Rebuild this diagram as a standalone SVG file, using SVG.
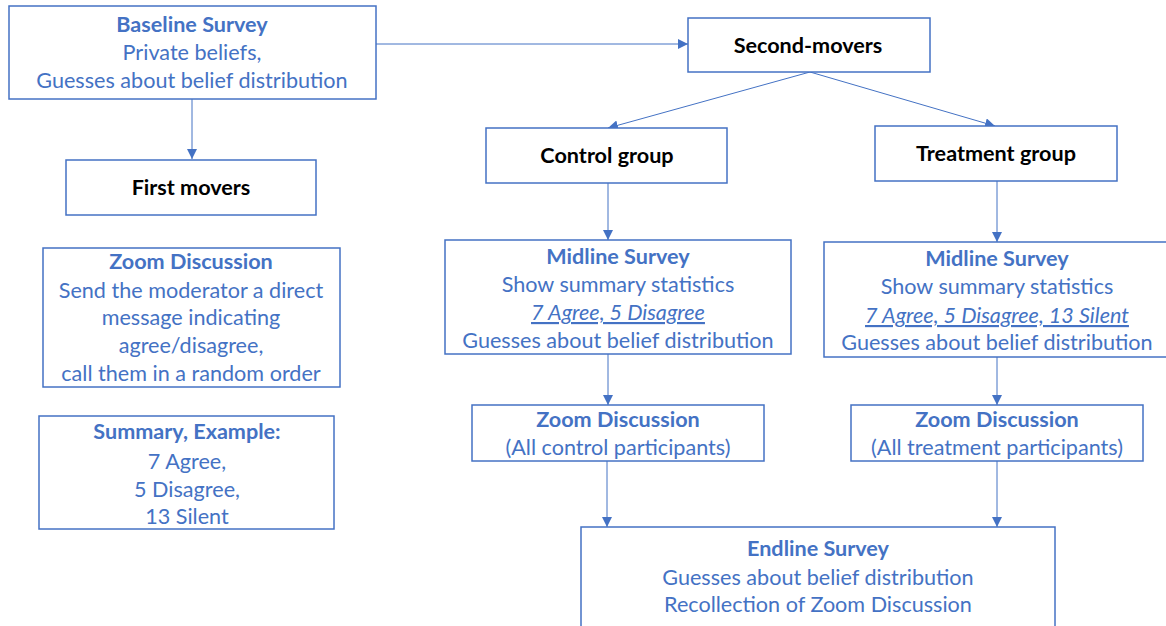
<svg xmlns="http://www.w3.org/2000/svg" width="1166" height="626" viewBox="0 0 1166 626">
<style>
.box{fill:#fff;stroke:#4472C4;stroke-width:1.5}
.t{font-family:Lato,"Liberation Sans",sans-serif;font-size:21.6px;fill:#4472C4;text-anchor:middle}
.b{font-weight:bold}
.k{fill:#000;font-weight:bold}
.u{font-style:italic;text-decoration:underline}
.c{stroke:#4472C4;stroke-width:1;fill:none;marker-end:url(#ah)}
</style>
<defs>
<marker id="ah" viewBox="0 0 10 10" refX="10" refY="5" markerWidth="10" markerHeight="10" markerUnits="userSpaceOnUse" orient="auto">
<path d="M0,0 L10,5 L0,10 z" fill="#4472C4"/>
</marker>
</defs>
<rect width="1166" height="626" fill="#fff"/>
<g id="connectors">
<line class="c" x1="376" y1="44" x2="688" y2="44"/>
<line class="c" x1="192" y1="99" x2="192" y2="159"/>
<line class="c" x1="810" y1="72" x2="608" y2="128"/>
<line class="c" x1="810" y1="72" x2="995" y2="126"/>
<line class="c" x1="608" y1="183" x2="608" y2="240"/>
<line class="c" x1="997" y1="181" x2="997" y2="242"/>
<line class="c" x1="608" y1="354" x2="608" y2="405"/>
<line class="c" x1="997" y1="357" x2="997" y2="405"/>
<line class="c" x1="607" y1="461" x2="607" y2="527"/>
<line class="c" x1="997" y1="461" x2="997" y2="527"/>
</g>
<g id="baseline">
<rect class="box" x="9" y="6" width="367" height="93"/>
<text class="t b" x="192" y="32">Baseline Survey</text>
<text class="t" x="192" y="60">Private beliefs,</text>
<text class="t" x="192" y="88">Guesses about belief distribution</text>
</g>
<g id="second-movers">
<rect class="box" x="688" y="18" width="242" height="54"/>
<text class="t k" x="808" y="53">Second-movers</text>
</g>
<g id="first-movers">
<rect class="box" x="66" y="160" width="250" height="55"/>
<text class="t k" x="191" y="195">First movers</text>
</g>
<g id="zoom-first">
<rect class="box" x="43" y="248" width="297" height="139"/>
<text class="t b" x="191" y="269">Zoom Discussion</text>
<text class="t" x="191" y="298">Send the moderator a direct</text>
<text class="t" x="191" y="325">message indicating</text>
<text class="t" x="191" y="353">agree/disagree,</text>
<text class="t" x="191" y="381">call them in a random order</text>
</g>
<g id="summary">
<rect class="box" x="39" y="416" width="295" height="113"/>
<text class="t b" x="187" y="439">Summary, Example:</text>
<text class="t" x="187" y="469">7 Agree,</text>
<text class="t" x="187" y="497">5 Disagree,</text>
<text class="t" x="187" y="524">13 Silent</text>
</g>
<g id="control">
<rect class="box" x="486" y="128" width="241" height="55"/>
<text class="t k" x="607" y="163">Control group</text>
</g>
<g id="treatment">
<rect class="box" x="875" y="126" width="242" height="55"/>
<text class="t k" x="996" y="161">Treatment group</text>
</g>
<g id="midline-control">
<rect class="box" x="445" y="240" width="346" height="114"/>
<text class="t b" x="618" y="264">Midline Survey</text>
<text class="t" x="618" y="292">Show summary statistics</text>
<text class="t u" x="618" y="320">7 Agree, 5 Disagree</text>
<text class="t" x="618" y="348">Guesses about belief distribution</text>
</g>
<g id="midline-treatment">
<rect class="box" x="824" y="242" width="345" height="115"/>
<text class="t b" x="997" y="266">Midline Survey</text>
<text class="t" x="997" y="294">Show summary statistics</text>
<text class="t u" x="997" y="323">7 Agree, 5 Disagree, 13 Silent</text>
<text class="t" x="997" y="350">Guesses about belief distribution</text>
</g>
<g id="zoom-control">
<rect class="box" x="472" y="405" width="292" height="56"/>
<text class="t b" x="618" y="427">Zoom Discussion</text>
<text class="t" x="618" y="455">(All control participants)</text>
</g>
<g id="zoom-treatment">
<rect class="box" x="851" y="405" width="292" height="56"/>
<text class="t b" x="997" y="427">Zoom Discussion</text>
<text class="t" x="997" y="455">(All treatment participants)</text>
</g>
<g id="endline">
<rect class="box" x="581" y="527" width="474" height="105"/>
<text class="t b" x="818" y="556">Endline Survey</text>
<text class="t" x="818" y="585">Guesses about belief distribution</text>
<text class="t" x="818" y="612">Recollection of Zoom Discussion</text>
</g>
</svg>
